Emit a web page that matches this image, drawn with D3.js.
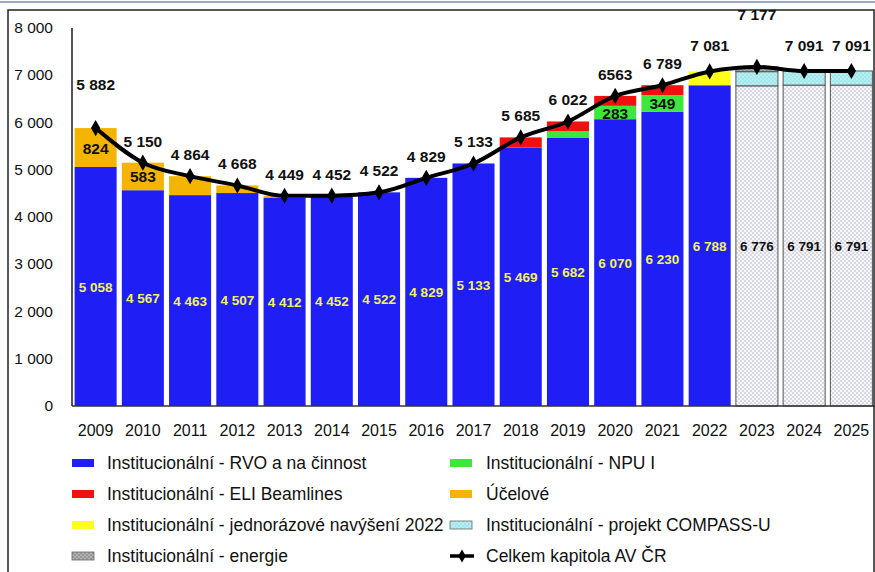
<!DOCTYPE html>
<html>
<head>
<meta charset="utf-8">
<script src="https://cdn.jsdelivr.net/npm/d3@7"></script>
<style>
  body { margin: 0; background: #fff; }
  svg { display: block; font-family: "Liberation Sans", Arial, sans-serif; }
</style>
</head>
<body>
<div id="chart-area"></div>
<script>
const years = ['2009','2010','2011','2012','2013','2014','2015','2016','2017','2018','2019','2020','2021','2022','2023','2024','2025'];
const rvo      = [5058, 4567, 4463, 4507, 4412, 4452, 4522, 4829, 5133, 5469, 5682, 6070, 6230, 6788, 6776, 6791, 6791];
const npu      = [0, 0, 0, 0, 0, 0, 0, 0, 0, 0, 135, 283, 349, 0, 0, 0, 0];
const eli      = [0, 0, 0, 0, 0, 0, 0, 0, 0, 216, 205, 210, 210, 0, 0, 0, 0];
const ucelove  = [824, 583, 401, 161, 37, 0, 0, 0, 0, 0, 0, 0, 0, 0, 0, 0, 0];
const jednoraz = [0, 0, 0, 0, 0, 0, 0, 0, 0, 0, 0, 0, 0, 293, 0, 0, 0];
const compass  = [0, 0, 0, 0, 0, 0, 0, 0, 0, 0, 0, 0, 0, 0, 300, 300, 300];
const energie  = [0, 0, 0, 0, 0, 0, 0, 0, 0, 0, 0, 0, 0, 0, 101, 0, 0];
const total    = [5882, 5150, 4864, 4668, 4449, 4452, 4522, 4829, 5133, 5685, 6022, 6563, 6789, 7081, 7177, 7091, 7091];
const totalLabels = ['5 882','5 150','4 864','4 668','4 449','4 452','4 522','4 829','5 133','5 685','6 022','6563','6 789','7 081','7 177','7 091','7 091'];
const yTicks = [0, 1000, 2000, 3000, 4000, 5000, 6000, 7000, 8000];
const futureYears = ['2023','2024','2025'];

const W = 875, H = 572;
const fmt = v => d3.format(',')(v).replace(/,/g, ' ');

const svg = d3.select('#chart-area').append('svg')
    .attr('width', W)
    .attr('height', H);

const defs = svg.append('defs');
function dots(id, bg, dot) {
    const p = defs.append('pattern')
        .attr('id', id)
        .attr('width', 4).attr('height', 4)
        .attr('patternUnits', 'userSpaceOnUse');
    p.append('rect').attr('width', 4).attr('height', 4).attr('fill', bg);
    p.append('circle').attr('cx', 1).attr('cy', 1).attr('r', 0.8).attr('fill', dot);
    p.append('circle').attr('cx', 3).attr('cy', 3).attr('r', 0.8).attr('fill', dot);
}
dots('futureDots', '#f7f7fb', '#b4b4cc');
dots('cyanDots', '#b4f0f2', '#92d6dc');
dots('grayDots', '#b0b0b0', '#777');

// frame
svg.append('line').attr('x1', 0).attr('x2', W).attr('y1', 2).attr('y2', 2)
    .attr('stroke', '#9aa8c0').attr('stroke-width', 2);
svg.append('rect')
    .attr('x', 8).attr('y', 10)
    .attr('width', W - 9).attr('height', H)
    .attr('fill', 'none').attr('stroke', '#222').attr('stroke-width', 1.5);

const x = d3.scaleBand()
    .domain(years)
    .range([72, 875])
    .paddingInner(0.11)
    .paddingOuter(0.055);

const y = d3.scaleLinear()
    .domain([0, 8000])
    .range([406, 28]);

const series = [
    {key: 'rvo', name: 'Institucionální - RVO a na činnost', values: rvo, fill: '#1f1ff5'},
    {key: 'npu', name: 'Institucionální - NPU I', values: npu, fill: '#3ce83c'},
    {key: 'eli', name: 'Institucionální - ELI Beamlines', values: eli, fill: '#f01010'},
    {key: 'ucelove', name: 'Účelové', values: ucelove, fill: '#f5b400'},
    {key: 'jednoraz', name: 'Institucionální - jednorázové navýšení 2022', values: jednoraz, fill: '#ffff1a'},
    {key: 'compass', name: 'Institucionální - projekt COMPASS-U', values: compass, fill: 'url(#cyanDots)'},
    {key: 'energie', name: 'Institucionální - energie', values: energie, fill: 'url(#grayDots)'}
];

const table = years.map((yr, i) => {
    const row = {year: yr};
    series.forEach(s => row[s.key] = s.values[i]);
    return row;
});
const stacked = d3.stack().keys(series.map(s => s.key))(table);

// bars
const layers = svg.append('g').selectAll('g')
    .data(stacked)
    .join('g');

layers.selectAll('rect')
    .data(d => d.map(v => ({v, key: d.key})))
    .join('rect')
        .attr('x', d => x(d.v.data.year))
        .attr('y', d => y(d.v[1]))
        .attr('width', x.bandwidth())
        .attr('height', d => y(d.v[0]) - y(d.v[1]))
        .attr('fill', d => {
            if (d.key === 'rvo' && futureYears.includes(d.v.data.year)) return 'url(#futureDots)';
            return series.find(s => s.key === d.key).fill;
        })
        .attr('stroke', d => futureYears.includes(d.v.data.year) && d.v[1] > d.v[0] ? '#555' : 'none')
        .attr('stroke-width', 1);

// axes
svg.append('line').attr('x1', 72).attr('x2', 72).attr('y1', 28).attr('y2', 406)
    .attr('stroke', '#555').attr('stroke-width', 2);
svg.append('line').attr('x1', 72).attr('x2', 875).attr('y1', 406).attr('y2', 406)
    .attr('stroke', '#333').attr('stroke-width', 1.5);

svg.append('g').selectAll('text')
    .data(yTicks)
    .join('text')
        .attr('x', 53)
        .attr('y', d => y(d) + 5)
        .attr('text-anchor', 'end')
        .attr('font-size', '15.5px')
        .attr('fill', '#111')
        .text(d => d === 0 ? '0' : fmt(d));

svg.append('g').selectAll('text')
    .data(years)
    .join('text')
        .attr('x', d => x(d) + x.bandwidth() / 2)
        .attr('y', 436)
        .attr('text-anchor', 'middle')
        .attr('font-size', '16px')
        .attr('fill', '#111')
        .text(d => d);

// labels inside the blue bars
svg.append('g').selectAll('text')
    .data(table)
    .join('text')
        .attr('x', d => x(d.year) + x.bandwidth() / 2)
        .attr('y', d => y(d.rvo / 2) + 5)
        .attr('text-anchor', 'middle')
        .attr('font-size', '13.5px')
        .attr('font-weight', 'bold')
        .attr('fill', d => futureYears.includes(d.year) ? '#111' : '#f2f25a')
        .text(d => fmt(d.rvo));

// Účelové labels (2009, 2010) and NPU labels (2020, 2021)
const ucLabels = table.filter(d => d.ucelove >= 500);
svg.append('g').selectAll('text')
    .data(ucLabels)
    .join('text')
        .attr('x', d => x(d.year) + x.bandwidth() / 2)
        .attr('y', d => y(d.rvo + d.npu + d.eli + d.ucelove / 2) + 6)
        .attr('text-anchor', 'middle')
        .attr('font-size', '15.5px')
        .attr('font-weight', 'bold')
        .attr('fill', '#111')
        .text(d => d.ucelove);

const npuLabels = table.filter(d => d.npu >= 200);
svg.append('g').selectAll('text')
    .data(npuLabels)
    .join('text')
        .attr('x', d => x(d.year) + x.bandwidth() / 2)
        .attr('y', d => y(d.rvo + d.npu / 2) + 6)
        .attr('text-anchor', 'middle')
        .attr('font-size', '15.5px')
        .attr('font-weight', 'bold')
        .attr('fill', '#111')
        .text(d => d.npu);

// total line
const line = d3.line()
    .x((d, i) => x(years[i]) + x.bandwidth() / 2)
    .y(d => y(d))
    .curve(d3.curveMonotoneX);

svg.append('path')
    .datum(total)
    .attr('d', line)
    .attr('fill', 'none')
    .attr('stroke', '#000')
    .attr('stroke-width', 4);

const diamond = d3.symbol().type(d3.symbolDiamond).size(75);
svg.append('g').selectAll('path')
    .data(total)
    .join('path')
        .attr('d', diamond)
        .attr('transform', (d, i) => `translate(${x(years[i]) + x.bandwidth() / 2}, ${y(d)})`)
        .attr('fill', '#000');

const labelLift = {'2009': 22, '2022': 4, '2023': 31, '2024': 4, '2025': 4};
svg.append('g').selectAll('text')
    .data(total)
    .join('text')
        .attr('x', (d, i) => x(years[i]) + x.bandwidth() / 2)
        .attr('y', (d, i) => y(d) - 16 - (labelLift[years[i]] || 0))
        .attr('text-anchor', 'middle')
        .attr('font-size', '15.5px')
        .attr('font-weight', 'bold')
        .attr('fill', '#111')
        .text((d, i) => totalLabels[i]);

// legend
const legendItems = [
    {s: series[0], col: 0, row: 0},
    {s: series[2], col: 0, row: 1},
    {s: series[4], col: 0, row: 2},
    {s: series[6], col: 0, row: 3},
    {s: series[1], col: 1, row: 0},
    {s: series[3], col: 1, row: 1},
    {s: series[5], col: 1, row: 2},
    {s: {name: 'Celkem kapitola AV ČR', line: true}, col: 1, row: 3}
];
const colX = [72, 450];
const rowY = [463, 494, 525, 556];

const leg = svg.append('g').selectAll('g')
    .data(legendItems)
    .join('g')
        .attr('transform', d => `translate(${colX[d.col]}, ${rowY[d.row]})`);

leg.filter(d => !d.s.line).append('rect')
    .attr('x', 0).attr('y', -4)
    .attr('width', 22).attr('height', 8)
    .attr('fill', d => d.s.fill)
    .attr('stroke', d => d.s.key === 'compass' || d.s.key === 'energie' ? '#666' : 'none')
    .attr('stroke-width', 0.8);

const legLine = leg.filter(d => d.s.line);
legLine.append('line')
    .attr('x1', 0).attr('x2', 24).attr('y1', 0).attr('y2', 0)
    .attr('stroke', '#000').attr('stroke-width', 3.5);
legLine.append('path')
    .attr('d', d3.symbol().type(d3.symbolDiamond).size(50))
    .attr('transform', 'translate(12, 0)')
    .attr('fill', '#000');

leg.append('text')
    .attr('x', d => d.col === 0 ? 35 : 36)
    .attr('y', 6)
    .attr('font-size', '17.5px')
    .attr('fill', '#111')
    .text(d => d.s.name);
</script>
</body>
</html>
